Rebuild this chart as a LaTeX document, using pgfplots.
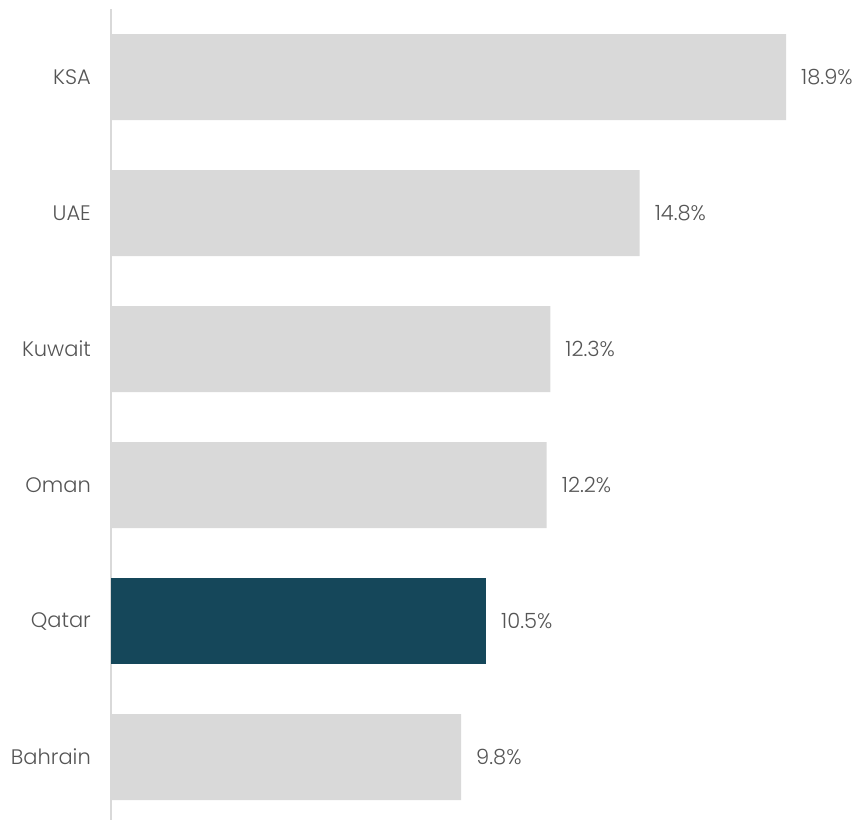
\documentclass[border=0pt]{standalone}
\usepackage{pgfplots}
\pgfplotsset{compat=1.18}
\usepackage{fontspec}
\setmainfont{Poppins Light}
\definecolor{bargray}{HTML}{D9D9D9}
\definecolor{qatar}{HTML}{15475A}
\definecolor{txt}{HTML}{555555}
\begin{document}
\fontsize{21}{25}\selectfont
\begin{tikzpicture}
\begin{axis}[
  name=ax,
  scale only axis,
  width=750pt, height=811pt,
  xmin=0, xmax=21.0,
  ymin=-0.5, ymax=5.463,
  y dir=reverse,
  xbar, bar width=86pt, bar shift=0pt,
  axis x line=none,
  axis y line=left,
  y axis line style={-, draw=bargray, line width=2pt},
  ytick={0,1,2,3,4,5},
  yticklabels={KSA,UAE,Kuwait,Oman,Qatar,Bahrain},
  major tick length=0pt,
  yticklabel style={inner sep=0pt, xshift=-20pt, text=txt, font=\fontsize{21}{25}\selectfont},
  clip=false,
  /pgf/number format/assume math mode=true,
  nodes near coords={\pgfmathprintnumber[fixed,precision=1,fixed zerofill,assume math mode=true]{\pgfplotspointmeta}\%},
  point meta=x,
  every node near coord/.append style={anchor=west, inner sep=0pt, xshift=15pt, text=txt, font=\fontsize{21}{25}\selectfont},
]
\addplot[fill=bargray, draw=none] coordinates {(18.9,0) (14.8,1) (12.3,2) (12.2,3) (9.8,5)};
\addplot[fill=qatar, draw=none] coordinates {(10.5,4)};
\end{axis}
\pgfresetboundingbox
\path (ax.south west) ++(-111pt,0pt) rectangle ++(861pt,820pt);
\end{tikzpicture}
\end{document}
